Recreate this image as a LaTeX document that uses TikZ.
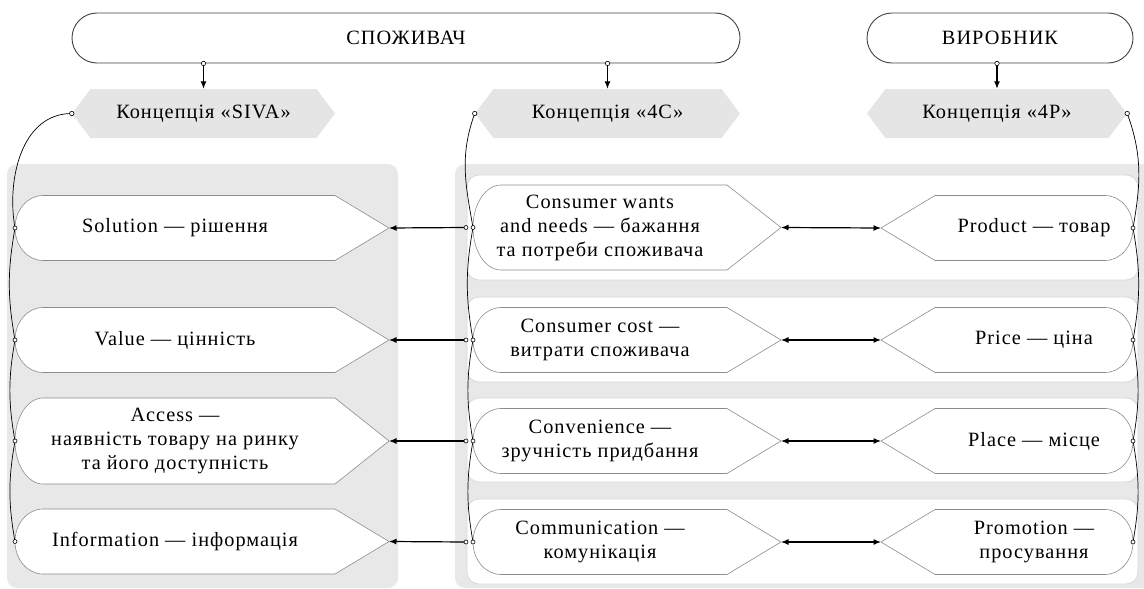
\documentclass[tikz,border=0pt]{standalone}
\usepackage{fontspec}
\setmainfont{Liberation Serif}[LetterSpace=5]
\usetikzlibrary{arrows.meta,shapes.misc,shapes.symbols,backgrounds}

\definecolor{panelgray}{HTML}{E8E8E8}
\definecolor{hexgray}{HTML}{E5E5E5}
\definecolor{rowline}{HTML}{DADADA}
\definecolor{itemline}{HTML}{8C8C8C}

\tikzset{
  every node/.style={font=\fontsize{20.3pt}{24pt}\selectfont},
  actor/.style={draw=black!75, line width=0.9pt, rounded rectangle, minimum height=50pt, inner sep=0pt},
  concept/.style={signal, signal to=west and east, signal pointer angle=106, fill=hexgray, minimum height=49pt, inner sep=0pt},
  item/.style={inner sep=0pt, outer sep=0pt, align=center},
  sivaitem/.style={item, minimum width=320pt},
  ceeitem/.style={item, minimum width=254pt},
  peeitem/.style={item, minimum width=198pt},
  itembox/.style={draw=itemline, line width=0.6pt, fill=white},
  conn/.style={line width=1.2pt},
  bracket/.style={line width=0.7pt},
  dot/.style={fill=white, draw=black, line width=0.6pt}
}

\begin{document}
\begin{tikzpicture}[x=1pt, y=-1pt, >={Latex[length=7.5pt,width=6pt]}]
    \useasboundingbox (0,0) rectangle (1144,589);

    % Actors
    \node[actor, minimum width=668pt] (spoz) at (406,38) {СПОЖИВАЧ};
    \node[actor, minimum width=266pt] (vyr) at (1000,38) {ВИРОБНИК};

    % Concepts
    \node[concept, minimum width=263pt] (sivahex) at (203.5,113.5) {Концепція «SIVA»};
    \node[concept, minimum width=265pt] (ceehex) at (607.5,113.5) {Концепція «4C»};
    \node[concept, minimum width=260pt] (peehex) at (997,113.5) {Концепція «4P»};

    % SIVA items
    \foreach \i/\y/\h/\txt in {1/228/65/{Solution — рішення}, 2/340/65/{Value — цінність},
        3/441/86/{Access —\\наявність товару на ринку\\та його доступність}, 4/541.5/65/{Information — інформація}} {
        \node[sivaitem, minimum height=\h] (siva\i) at (175,\y) {\txt};
    }

    % 4C items
    \foreach \i/\y/\h/\txt in {1/227.5/85/{Consumer wants\\and needs — бажання\\та потреби споживача},
        2/340/65/{Consumer cost —\\витрати споживача}, 3/441/65/{Convenience —\\зручність придбання},
        4/542/65/{Communication —\\комунікація}} {
        \node[ceeitem, minimum height=\h] (cee\i) at (600,\y) {\txt};
    }

    % 4P items
    \foreach \i/\y/\txt in {1/228/{Product — товар}, 2/340/{Price — ціна}, 3/441/{Place — місце},
        4/542/{Promotion —\\просування}} {
        \node[peeitem, minimum height=65] (pee\i) at (1034,\y) {\txt};
    }

    % Panels, rows and item outlines
    \begin{scope}[on background layer]
        \fill[panelgray, rounded corners=10pt] (7,164) rectangle (398,588);
        \fill[panelgray, rounded corners=10pt] (455,164) rectangle (1156,588);
        \foreach \t/\b in {175/280, 297/382, 398/482, 499/584} {
            \filldraw[fill=white, draw=rowline, line width=0.8pt, rounded corners=12pt] (467,\t) rectangle (1138,\b);
        }
        \foreach \i/\r in {1/32.5pt, 2/32.5pt, 3/43pt, 4/32.5pt} {
            \draw[itembox] (siva\i.north east) -- ([xshift=54pt]siva\i.east) -- (siva\i.south east)
                -- ([xshift=28pt]siva\i.south west) arc[start angle=270, end angle=90, x radius=28pt, y radius=\r] -- cycle;
        }
        \foreach \i/\r in {1/42.5pt, 2/32.5pt, 3/32.5pt, 4/32.5pt} {
            \draw[itembox] (cee\i.north east) -- ([xshift=54pt]cee\i.east) -- (cee\i.south east)
                -- ([xshift=28pt]cee\i.south west) arc[start angle=270, end angle=90, x radius=28pt, y radius=\r] -- cycle;
        }
        \foreach \i in {1,...,4} {
            \draw[itembox] (pee\i.north west) -- ([xshift=-54pt]pee\i.west) -- (pee\i.south west)
                -- ([xshift=-28pt]pee\i.south east) arc[start angle=-90, end angle=90, x radius=28pt, y radius=32.5pt] -- cycle;
        }
    \end{scope}

    % Actor to concept
    \coordinate (spoz-a) at (spoz.south -| sivahex.north);
    \coordinate (spoz-b) at (spoz.south -| ceehex.north);
    \coordinate (vyr-a) at (vyr.south -| peehex.north);
    \draw[->, conn] (spoz-a) -- (sivahex.north);
    \draw[->, conn] (spoz-b) -- (ceehex.north);
    \draw[->, conn] (vyr-a) -- (peehex.north);

    % Tips and arrows between columns
    \foreach \i in {1,...,4} {
        \coordinate (siva\i-tip) at ([xshift=54pt]siva\i.east);
        \coordinate (cee\i-tip) at ([xshift=54pt]cee\i.east);
        \coordinate (pee\i-tip) at ([xshift=-54pt]pee\i.west);
        \coordinate (cee\i-in) at ([xshift=-7pt]cee\i.west);
        \draw[->, conn] (cee\i-in) -- (siva\i-tip);
        \draw[<->, conn] (cee\i-tip) -- (pee\i-tip);
    }

    % Brackets
    \draw[bracket] (sivahex.west) to[out=180, in=100] (siva1.west);
    \draw[bracket] (ceehex.west) to[out=250, in=100] (cee1.west);
    \draw[bracket] (peehex.east) to[out=290, in=80] (pee1.east);
    \foreach \i/\j in {1/2, 2/3, 3/4} {
        \draw[bracket] (siva\i.west) to[out=260, in=100] (siva\j.west);
        \draw[bracket] (cee\i.west) to[out=260, in=100] (cee\j.west);
        \draw[bracket] (pee\i.east) to[out=280, in=80] (pee\j.east);
    }

    % Dots
    \foreach \p in {spoz-a, spoz-b, vyr-a, sivahex.west, ceehex.west, peehex.east} {
        \filldraw[dot] (\p) circle (2.2pt);
    }
    \foreach \i in {1,...,4} {
        \filldraw[dot] (siva\i.west) circle (2pt);
        \filldraw[dot] (cee\i.west) circle (2pt);
        \filldraw[dot] (cee\i-in) circle (2pt);
        \filldraw[dot] (pee\i.east) circle (2pt);
    }
\end{tikzpicture}
\end{document}
